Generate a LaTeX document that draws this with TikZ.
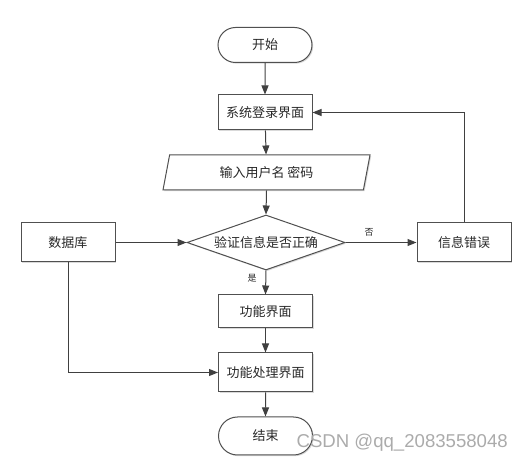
\documentclass[tikz,border=0pt]{standalone}
\usepackage{fontspec}
\newfontfamily\cjk{Noto Sans CJK SC}
\newfontfamily\wmfont{Liberation Sans}
\usetikzlibrary{shapes.geometric,shapes.misc,arrows.meta,shadows}
\definecolor{linec}{RGB}{64,64,64}
\definecolor{boxc}{RGB}{80,80,80}
\definecolor{txtc}{RGB}{40,40,40}
\tikzset{
  base/.style={draw=boxc, line width=1pt, fill=white, text=txtc,
    font=\cjk\fontsize{13}{15}\selectfont, inner sep=0pt,
    drop shadow={shadow xshift=1.2pt, shadow yshift=-1.2pt, fill=black!25, opacity=0.6}},
  boxnode/.style={base, rectangle, minimum width=94pt, minimum height=#1},
  term/.style={base, rounded rectangle, minimum width=94pt, minimum height=35pt},
  para/.style={base, trapezium, trapezium left angle=61.5, trapezium right angle=118.5,
    trapezium stretches body, minimum width=207pt, minimum height=35pt},
  dec/.style={base, diamond, aspect=2.87, minimum width=158pt, minimum height=55pt},
  conn/.style={draw=linec, line width=1pt, -{Triangle[length=9pt,width=7pt]}},
  lbl/.style={font=\cjk\fontsize{9}{10}\selectfont, text=txtc, inner sep=0pt}
}
\begin{document}
\begin{tikzpicture}[x=1pt,y=-1pt]
\useasboundingbox (0,0) rectangle (523,462);
\node[term] (start) at (265,45) {开始};
\node[boxnode=35pt] (login) at (265,112.5) {系统登录界面};
\node[para] (input) at (266.5,172.5) {输入用户名 密码};
\node[dec] (dia) at (266,242.5) {验证信息是否正确};
\node[boxnode=39pt] (db) at (68,242.5) {数据库};
\node[boxnode=39pt] (err) at (464,242.5) {信息错误};
\node[boxnode=33pt] (func) at (265.5,311.5) {功能界面};
\node[boxnode=39pt] (proc) at (265.5,372.5) {功能处理界面};
\node[term, minimum height=38pt] (end) at (265.5,436) {结束};
\node[lbl] (no) at (369,232) {否};
\node[lbl] (yes) at (252,278) {是};
\draw[conn] (start) -- (login);
\draw[conn] (login) -- (input);
\draw[conn] (input.south) -- (dia.north);
\draw[conn] (dia.east) -- (err.west);
\draw[conn] (dia.south) -- (func.north);
\draw[conn] (func) -- (proc);
\draw[conn] (proc) -- (end);
\draw[conn] (db.east) -- (dia.west);
\draw[conn] (db.south) |- (proc.west);
\draw[conn] (err.north) |- (login.east);
\node[font=\wmfont\fontsize{18.6}{20}\selectfont, text=black!33, anchor=east, inner sep=0pt] (wm) at (508,443) {CSDN @qq\_2083558048};
\end{tikzpicture}
\end{document}
